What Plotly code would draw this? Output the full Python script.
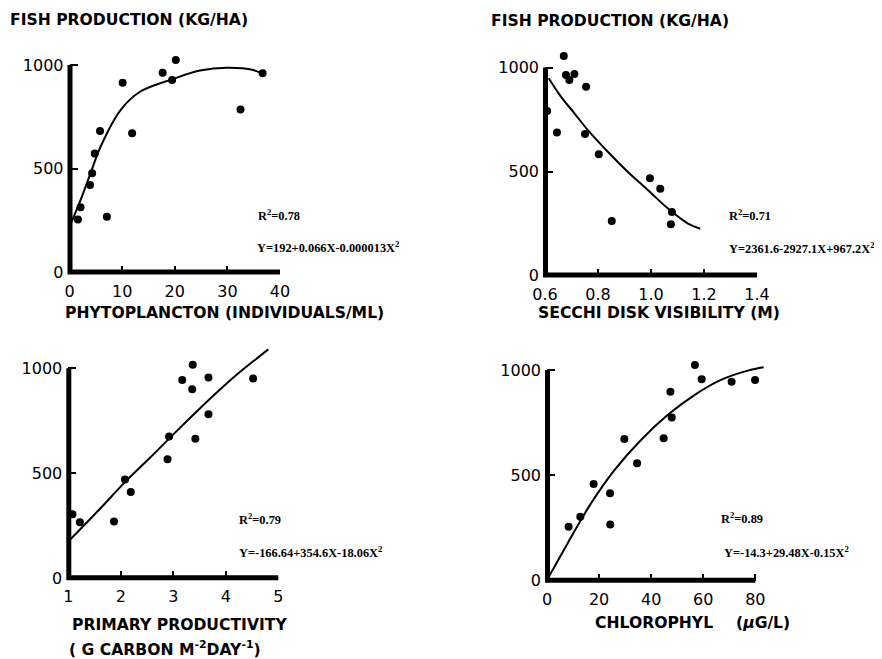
import plotly.graph_objects as go

# page body adds an 8px margin; the figure is sized to fill the rest of the 882x659 window
PAGE_W, PAGE_H, OFF = 882, 659, 8
W, H = PAGE_W - OFF, PAGE_H - OFF

# ---------------- data ----------------
# Panel 1: phytoplancton
phyto_x = [1.6, 2.1, 7.1, 3.9, 4.3, 4.8, 5.8, 10.1, 11.9, 17.7, 19.5, 20.2, 32.5, 36.7]
phyto_y = [256, 314, 269, 422, 478, 574, 682, 915, 671, 963, 928, 1024, 786, 960]
phyto_fit_x = [0, 2.1, 4.0, 5.9, 9.7, 13.4, 19.5, 24.8, 29.9, 34.9, 37.1]
phyto_fit_y = [221, 349, 478, 606, 783, 871, 931, 973, 987, 976, 952]

# Panel 2: secchi disk visibility
secchi_x = [0.671, 0.679, 0.692, 0.711, 0.755, 0.608, 0.645, 0.751, 0.803, 0.852,
            0.996, 1.035, 1.079, 1.075]
secchi_y = [1055, 964, 940, 969, 908, 791, 687, 680, 583, 262, 467, 417, 305, 246]
secchi_fit_x = [0.614, 0.660, 0.711, 0.761, 0.837, 0.912, 0.988, 1.063, 1.138, 1.186]
secchi_fit_y = [948, 860, 780, 700, 595, 499, 411, 323, 251, 225]

# Panel 3: primary productivity
prod_x = [1.08, 1.22, 1.87, 2.08, 2.19, 2.89, 2.92, 3.17, 3.37, 3.36, 3.42, 3.67, 3.67, 4.52]
prod_y = [305, 267, 270, 471, 411, 567, 675, 944, 1017, 900, 665, 956, 781, 952]
prod_fit_x = [1.03, 1.60, 2.08, 2.56, 2.94, 3.51, 4.14, 4.81]
prod_fit_y = [183, 330, 458, 575, 670, 810, 955, 1090]

# Panel 4: chlorophyl
chl_x = [8.3, 12.8, 17.9, 24.2, 24.3, 29.7, 34.6, 44.8, 47.4, 47.9, 56.8, 59.4, 70.9, 79.9]
chl_y = [256, 304, 459, 415, 267, 672, 557, 676, 897, 774, 1024, 956, 944, 953]
chl_fit_x = [0, 7.9, 16.9, 25.9, 36.1, 46.3, 56.6, 66.8, 77.1, 83.2]
chl_fit_y = [3, 177, 367, 525, 668, 786, 881, 953, 997, 1013]

y_ticks = [0, 500, 1000]
y_ticktext = ["0", "500", "1000"]
phyto_ticks = [0, 10, 20, 30, 40]
secchi_ticks = [0.6, 0.8, 1.0, 1.2, 1.4]
secchi_ticktext = ["0.6", "0.8", "1.0", "1.2", "1.4"]
prod_ticks = [1, 2, 3, 4, 5]
chl_ticks = [0, 20, 40, 60, 80]

y_title = "FISH PRODUCTION (KG/HA)"
r2_texts = ["R<sup>2</sup>=0.78", "R<sup>2</sup>=0.71", "R<sup>2</sup>=0.79", "R<sup>2</sup>=0.89"]
eq_texts = ["Y=192+0.066X-0.000013X<sup>2</sup>",
            "Y=2361.6-2927.1X+967.2X<sup>2</sup>",
            "Y=-166.64+354.6X-18.06X<sup>2</sup>",
            "Y=-14.3+29.48X-0.15X<sup>2</sup>"]

# ---------------- geometry (page pixels) ----------------
panels = [
    dict(x=phyto_x, y=phyto_y, fx=phyto_fit_x, fy=phyto_fit_y, ax=(0, 40), px=(69.5, 280),
         py=(272.5, 65), rng=(0, 40), tv=phyto_ticks, tt=[str(t) for t in phyto_ticks]),
    dict(x=secchi_x, y=secchi_y, fx=secchi_fit_x, fy=secchi_fit_y, ax=(0.6, 1.4), px=(545, 757),
         py=(275.5, 67.5), rng=(0.6, 1.4), tv=secchi_ticks, tt=secchi_ticktext),
    dict(x=prod_x, y=prod_y, fx=prod_fit_x, fy=prod_fit_y, ax=(1, 5), px=(68.3, 278.3),
         py=(578.3, 368.3), rng=(1, 5), tv=prod_ticks, tt=[str(t) for t in prod_ticks]),
    dict(x=chl_x, y=chl_y, fx=chl_fit_x, fy=chl_fit_y, ax=(0, 80), px=(547, 755.3),
         py=(580.7, 370), rng=(0, 84), tv=chl_ticks, tt=[str(t) for t in chl_ticks]),
]
Y_RANGE = (0, 1100)
AXIS_W = 4
AXIS_COLOR = "black"
PAD = 5  # px of room around the axis-line frame so the thick line is not clipped


def fx_(px):
    return (px - OFF) / W


def fy_(py):
    return 1 - (py - OFF) / H


fig = go.Figure()
layout = dict(
    width=W, height=H, margin=dict(l=0, r=0, t=0, b=0, pad=0, autoexpand=False),
    paper_bgcolor="white", plot_bgcolor="rgba(0,0,0,0)", showlegend=False,
)
tick_font = dict(family="DejaVu Sans", size=16, color="black")

for i, p in enumerate(panels):
    n = i + 1
    xs = "" if n == 1 else str(n)
    xa, ya = "x" + xs, "y" + xs
    d0, d1 = p["ax"]
    p0, p1 = p["px"]
    sx = (p1 - p0) / (d1 - d0)
    left = p0 + (p["rng"][0] - d0) * sx
    right = p0 + (p["rng"][1] - d0) * sx
    y0p, y1p = p["py"]
    sy = (y0p - y1p) / 1000.0
    bottom = y0p - Y_RANGE[0] * sy
    top = y0p - Y_RANGE[1] * sy
    ytop = y_ticks[-1]

    # thick L-shaped axis line inside the main subplot (outer half is clipped at the plot edge)
    fig.add_trace(go.Scatter(x=[d0, d0, d1], y=[ytop, 0, 0], mode="lines",
                             line=dict(color=AXIS_COLOR, width=6), xaxis=xa, yaxis=ya,
                             hoverinfo="skip"))
    fig.add_trace(go.Scatter(x=p["fx"], y=p["fy"], mode="lines", line_shape="spline",
                             line=dict(color="black", width=2), xaxis=xa, yaxis=ya,
                             hoverinfo="skip"))
    fig.add_trace(go.Scatter(x=p["x"], y=p["y"], mode="markers", cliponaxis=False,
                             marker=dict(color="black", size=8), xaxis=xa, yaxis=ya))

    layout["xaxis" + xs] = dict(
        domain=[fx_(left), fx_(right)], range=list(p["rng"]), anchor=ya, automargin=False,
        showgrid=False, zeroline=False, showline=False,
        tickmode="array", tickvals=p["tv"], ticktext=p["tt"],
        ticks="inside", ticklen=7, tickwidth=1.5, tickcolor="black",
        tickfont=tick_font, ticklabelstandoff=7,
    )
    layout["yaxis" + xs] = dict(
        domain=[fy_(bottom), fy_(top)], range=list(Y_RANGE), anchor=xa, automargin=False,
        showgrid=False, zeroline=False, showline=False,
        tickmode="array", tickvals=y_ticks, ticktext=y_ticktext,
        ticks="inside", ticklen=8, tickwidth=1.5, tickcolor="black",
        tickfont=tick_font, ticklabelstandoff=5,
    )

    # frame subplot holding the full-width axis line (x: axis span at y=0, y: 0..1000)
    k = n + 4
    fxa, fya = "x%d" % k, "y%d" % k
    fig.add_trace(go.Scatter(x=[d0, d0, d1], y=[ytop, 0, 0], mode="lines",
                             line=dict(color=AXIS_COLOR, width=AXIS_W), xaxis=fxa, yaxis=fya,
                             hoverinfo="skip"))
    frame_common = dict(showgrid=False, zeroline=False, showticklabels=False, ticks="",
                        showline=False, automargin=False, fixedrange=True)
    layout["xaxis%d" % k] = dict(domain=[fx_(p0 - PAD), fx_(p1 + PAD)],
                                 range=[d0 - PAD / sx, d1 + PAD / sx], anchor=fya, **frame_common)
    layout["yaxis%d" % k] = dict(domain=[fy_(y0p + PAD), fy_(y0p - ytop * sy - PAD)],
                                 range=[-PAD / sy, ytop + PAD / sy], anchor=fxa, **frame_common)

title_font = dict(family="DejaVu Sans", size=15.6, color="black", weight="bold")
eq_font = dict(family="Liberation Serif", size=12.4, color="black", weight="bold")

ann = []


def A(text, px, py, font):
    ann.append(dict(text=text, x=fx_(px), y=fy_(py), xref="paper", yref="paper",
                    xanchor="left", yanchor="middle", showarrow=False, font=font))


A(y_title, 8, 20, title_font)
A(y_title, 489, 21, title_font)
A("PHYTOPLANCTON (INDIVIDUALS/ML)", 63, 313, title_font)
A("SECCHI DISK VISIBILITY (M)", 536, 313, title_font)
A("PRIMARY PRODUCTIVITY", 70, 625, title_font)
A("( G CARBON M<sup>-2</sup>DAY<sup>-1</sup>)", 67, 648, title_font)
A("CHLOROPHYL", 593, 623, title_font)
A("(<i>μ</i>G/L)", 734, 623, title_font)

r2_pos = [(256, 215), (727, 215), (237, 519), (719, 518)]
eq_pos = [(255, 247), (727, 248), (237, 552), (722, 552)]
for t, (x, y) in zip(r2_texts, r2_pos):
    A(t, x, y, eq_font)
for t, (x, y) in zip(eq_texts, eq_pos):
    A(t, x, y, eq_font)

layout["annotations"] = ann
fig.update_layout(**layout)
fig.write_html("out.html")
